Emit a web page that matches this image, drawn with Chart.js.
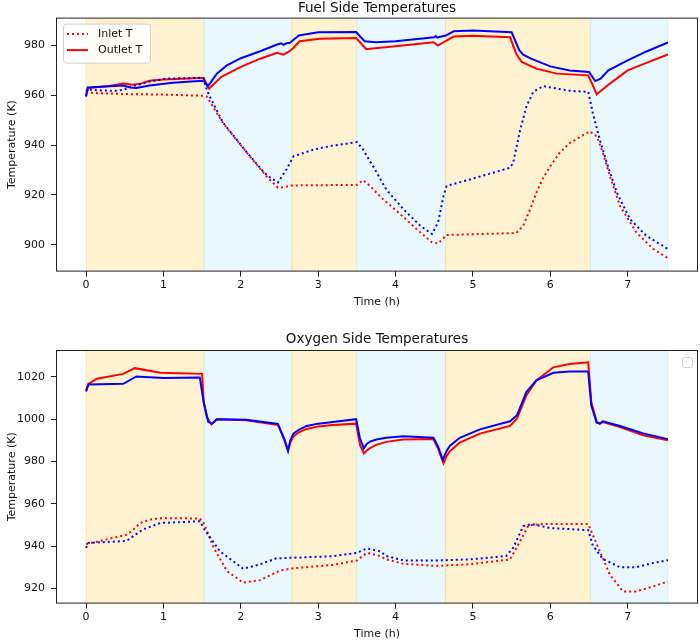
<!DOCTYPE html>
<html>
<head>
<meta charset="utf-8">
<script src="https://cdn.jsdelivr.net/npm/chart.js@4.4.0/dist/chart.umd.min.js"></script>
<style>
  body { margin: 0; background: #fff; }
  canvas { display: block; }
</style>
</head>
<body>
<canvas id="Grafica1" width="700" height="310"></canvas>
<canvas id="Grafica2" width="700" height="332"></canvas>
<script>
// fases de operacion (sombreado de fondo)
const phaseEdges = [0, 1.525, 2.66, 3.5, 4.645, 6.52, 7.52];
const phaseKinds = ['hot', 'cold', 'hot', 'cold', 'hot', 'cold'];

const xTicks = [0, 1, 2, 3, 4, 5, 6, 7];
const fuelTicks = [900, 920, 940, 960, 980];
const oxTicks = [920, 940, 960, 980, 1000, 1020];

// lado combustible
const fuelInRedT = [0, 0.1, 0.5, 1.0, 1.52, 1.56, 1.77, 2.08, 2.33, 2.48, 2.55, 2.65, 3.0, 3.5, 3.58, 3.67, 3.84, 4.06, 4.27, 4.47, 4.55, 4.66, 5.0, 5.56, 5.65, 5.74, 5.82, 5.91, 6.0, 6.12, 6.25, 6.43, 6.51, 6.6, 6.68, 6.77, 6.9, 7.11, 7.33, 7.52];
const fuelInRed = [961.4, 960.9, 960.5, 960.3, 959.8, 959.5, 948.8, 936.9, 927.5, 922.9, 923.0, 923.8, 923.9, 924.0, 925.9, 923.6, 918.2, 912.3, 906.3, 901.0, 900.5, 903.9, 904.2, 904.7, 907.6, 914.3, 920.9, 927.0, 931.5, 936.9, 940.8, 944.1, 945.5, 943.5, 936.9, 927.5, 915.6, 905.0, 898.3, 894.6];

const fuelInBlueT = [0, 0.01, 0.17, 0.38, 0.49, 0.6, 0.82, 1.04, 1.47, 1.52, 1.54, 1.59, 1.77, 2.08, 2.3, 2.4, 2.48, 2.59, 2.68, 2.94, 3.19, 3.5, 3.58, 3.67, 3.71, 3.88, 4.1, 4.32, 4.47, 4.55, 4.62, 4.66, 4.96, 5.48, 5.52, 5.61, 5.69, 5.78, 5.91, 6.08, 6.25, 6.49, 6.55, 6.64, 6.73, 6.86, 7.03, 7.24, 7.52];
const fuelInBlue = [959.5, 962.3, 962.0, 961.8, 962.3, 963.7, 965.5, 966.7, 967.0, 966.8, 964.0, 960.0, 949.0, 937.0, 929.0, 926.5, 925.0, 930.2, 935.5, 938.2, 939.8, 941.2, 938.2, 933.5, 931.5, 922.2, 914.3, 907.6, 904.3, 909.0, 919.6, 923.6, 926.2, 930.9, 932.9, 946.1, 955.4, 961.4, 963.7, 962.7, 961.8, 961.4, 952.8, 942.2, 932.9, 920.9, 910.3, 903.6, 898.3];

const fuelOutRedT = [0, 0.03, 0.3, 0.48, 0.6, 0.69, 0.82, 1.0, 1.47, 1.52, 1.55, 1.59, 1.65, 1.75, 2.0, 2.25, 2.47, 2.55, 2.62, 2.68, 2.76, 3.02, 3.49, 3.54, 3.62, 3.67, 4.0, 4.49, 4.55, 4.64, 4.75, 5.0, 5.48, 5.56, 5.63, 5.82, 6.08, 6.49, 6.55, 6.6, 6.64, 6.77, 7.0, 7.25, 7.52];
const fuelOutRed = [960.3, 962.9, 963.7, 964.7, 964.2, 964.5, 965.8, 966.3, 966.9, 966.9, 965.0, 962.7, 964.5, 967.4, 971.4, 974.7, 977.1, 976.3, 977.5, 979.0, 981.7, 982.7, 983.0, 981.3, 978.5, 978.7, 979.7, 981.3, 980.0, 981.7, 983.6, 983.9, 983.3, 976.7, 973.4, 970.7, 968.7, 968.0, 964.0, 960.4, 961.4, 964.7, 970.0, 973.1, 976.4];

const fuelOutBlueT = [0, 0.02, 0.48, 0.57, 0.65, 0.82, 1.12, 1.5, 1.53, 1.57, 1.6, 1.69, 1.82, 2.0, 2.25, 2.47, 2.52, 2.55, 2.6, 2.63, 2.75, 3.0, 3.49, 3.53, 3.6, 3.75, 4.0, 4.5, 4.52, 4.54, 4.58, 4.65, 4.75, 5.0, 5.5, 5.6, 5.65, 5.75, 6.0, 6.25, 6.5, 6.58, 6.65, 6.75, 7.0, 7.25, 7.52];
const fuelOutBlue = [959.7, 963.1, 963.9, 963.1, 962.9, 963.9, 965.0, 965.8, 965.5, 963.7, 964.7, 968.7, 972.0, 974.9, 977.7, 980.4, 980.9, 980.3, 981.0, 981.0, 984.0, 985.3, 985.4, 984.0, 981.7, 981.3, 981.7, 983.3, 983.8, 983.2, 983.5, 984.0, 985.7, 986.0, 985.3, 978.0, 976.3, 974.7, 971.6, 970.0, 969.4, 965.7, 966.7, 970.0, 974.0, 977.7, 981.2];

// lado oxigeno
const oxInRedT = [0, 0.52, 0.6, 0.7, 0.85, 1.0, 1.47, 1.52, 1.65, 1.82, 2.03, 2.25, 2.51, 2.68, 3.19, 3.5, 3.63, 3.8, 3.88, 4.1, 4.53, 4.96, 5.48, 5.61, 5.72, 5.91, 6.25, 6.49, 6.53, 6.64, 6.77, 6.94, 7.11, 7.33, 7.52];
const oxInRed = [941.0, 945.4, 947.5, 951.0, 952.8, 953.3, 953.1, 951.0, 939.3, 928.3, 922.8, 924.0, 928.6, 929.6, 931.2, 933.3, 936.9, 935.4, 933.8, 931.7, 930.7, 931.5, 933.8, 942.4, 949.9, 950.5, 950.5, 950.5, 947.0, 937.6, 926.6, 918.7, 918.7, 921.0, 923.4];

const oxInBlueT = [0, 0.03, 0.52, 0.74, 0.96, 1.47, 1.53, 1.73, 2.03, 2.25, 2.46, 2.68, 3.19, 3.5, 3.63, 3.8, 3.88, 4.1, 4.53, 4.96, 5.43, 5.52, 5.65, 5.76, 6.0, 6.49, 6.55, 6.68, 6.9, 7.11, 7.33, 7.52];
const oxInBlue = [939.2, 941.6, 942.5, 948.0, 951.0, 951.8, 947.9, 937.6, 929.4, 931.5, 934.3, 934.6, 935.3, 936.9, 939.0, 937.6, 935.4, 933.3, 933.3, 933.8, 935.4, 939.3, 949.5, 950.5, 948.6, 947.6, 940.3, 934.0, 930.1, 930.1, 932.1, 933.4];

const oxOutRedT = [0, 0.03, 0.14, 0.48, 0.63, 0.96, 1.5, 1.52, 1.56, 1.62, 1.69, 2.07, 2.48, 2.56, 2.61, 2.64, 2.68, 2.75, 2.85, 3.0, 3.19, 3.49, 3.54, 3.59, 3.63, 3.67, 3.75, 3.88, 4.1, 4.49, 4.55, 4.62, 4.66, 4.7, 4.83, 5.09, 5.48, 5.57, 5.69, 5.82, 6.04, 6.25, 6.49, 6.53, 6.6, 6.64, 6.68, 6.9, 7.2, 7.52];
const oxOutRed = [1013.6, 1016.7, 1019.1, 1021.4, 1024.1, 1021.9, 1021.4, 1008.1, 1001.0, 997.5, 1000.0, 999.5, 997.2, 990.9, 985.4, 989.0, 991.8, 993.8, 995.4, 996.6, 997.3, 997.9, 987.8, 983.8, 985.3, 986.4, 987.9, 989.3, 990.4, 990.6, 986.0, 979.2, 982.6, 984.8, 989.0, 993.2, 996.8, 1000.3, 1011.2, 1018.3, 1024.5, 1026.1, 1026.9, 1008.1, 998.7, 997.9, 998.7, 996.3, 992.4, 990.1];

const oxOutBlueT = [0, 0.03, 0.48, 0.65, 1.0, 1.47, 1.52, 1.58, 1.63, 1.69, 2.07, 2.48, 2.56, 2.61, 2.64, 2.68, 2.75, 2.85, 3.0, 3.19, 3.49, 3.54, 3.59, 3.63, 3.67, 3.75, 3.88, 4.1, 4.49, 4.55, 4.61, 4.66, 4.7, 4.83, 5.09, 5.48, 5.57, 5.69, 5.82, 6.04, 6.25, 6.49, 6.53, 6.6, 6.64, 6.68, 6.9, 7.2, 7.52];
const oxOutBlue = [1013.1, 1016.4, 1016.7, 1020.2, 1019.5, 1019.7, 1008.0, 998.7, 997.9, 1000.0, 999.7, 997.8, 990.5, 985.0, 990.0, 993.2, 995.0, 996.8, 997.9, 998.7, 1000.0, 990.9, 986.2, 988.4, 989.4, 990.4, 991.2, 992.0, 991.2, 987.0, 980.8, 985.0, 987.4, 991.2, 995.2, 999.0, 1001.9, 1012.8, 1018.3, 1021.9, 1022.5, 1022.5, 1006.5, 998.3, 997.9, 999.0, 996.8, 993.3, 990.6];

const FONT = 'DejaVu Sans';

const pts = (ts, vs) => ts.map((t, i) => ({x: t, y: vs[i]}));

// sombreado de fases
const phasePlugin = {
    id: 'phases',
    beforeDatasetsDraw(chart) {
        const {ctx, chartArea, scales} = chart;
        ctx.save();
        for (let i = 0; i < phaseKinds.length; i++) {
            const x0 = scales.x.getPixelForValue(phaseEdges[i]);
            const x1 = scales.x.getPixelForValue(phaseEdges[i + 1]);
            const hot = phaseKinds[i] == 'hot';
            ctx.fillStyle = hot ? 'rgb(255,242,208)' : 'rgb(233,248,253)';
            ctx.fillRect(x0, chartArea.top, x1 - x0, chartArea.bottom - chartArea.top);
            ctx.strokeStyle = hot ? 'rgba(255,215,120,0.6)' : 'rgba(190,235,250,0.6)';
            ctx.lineWidth = 1;
            ctx.beginPath();
            ctx.moveTo(x0, chartArea.top); ctx.lineTo(x0, chartArea.bottom);
            ctx.moveTo(x1, chartArea.top); ctx.lineTo(x1, chartArea.bottom);
            ctx.stroke();
        }
        ctx.restore();
    }
};

// marco, titulo y leyendas estilo matplotlib
const framePlugin = {
    id: 'frame',
    afterDraw(chart, args, opts) {
        const {ctx, chartArea: a} = chart;
        ctx.save();
        ctx.strokeStyle = '#222';
        ctx.lineWidth = 1;
        ctx.strokeRect(a.left - 0.5, a.top - 0.5, a.right - a.left + 1, a.bottom - a.top + 1);

        ctx.fillStyle = '#111';
        ctx.font = '13.5px "' + FONT + '"';
        ctx.textAlign = 'center';
        ctx.textBaseline = 'middle';
        ctx.fillText(opts.title, (a.left + a.right) / 2, opts.titleY);
        ctx.textAlign = 'left';

        if (opts.legend) {
            const bx = a.left + 6.5, by = a.top + 5.5, bw = 87, bh = 39;
            ctx.fillStyle = 'rgba(255,255,255,0.85)';
            ctx.strokeStyle = '#d0d0d0';
            ctx.beginPath();
            ctx.roundRect(bx, by, bw, bh, 3);
            ctx.fill();
            ctx.stroke();
            const items = [['Inlet T', [2, 3]], ['Outlet T', []]];
            items.forEach((it, i) => {
                const y = a.top + 15.5 + i * 16;
                ctx.strokeStyle = 'red';
                ctx.lineWidth = 2;
                ctx.setLineDash(it[1]);
                ctx.beginPath();
                ctx.moveTo(a.left + 10, y);
                ctx.lineTo(a.left + 31, y);
                ctx.stroke();
                ctx.setLineDash([]);
                ctx.fillStyle = '#111';
                ctx.font = '11px "' + FONT + '"';
                ctx.textBaseline = 'middle';
                ctx.fillText(it[0], a.left + 41, y);
            });
        }
        if (opts.emptyLegend) {
            ctx.fillStyle = '#fff';
            ctx.strokeStyle = '#d0d0d0';
            ctx.lineWidth = 1;
            ctx.beginPath();
            ctx.roundRect(a.right - 14.5, a.top + 6.5, 10, 10, 2);
            ctx.fill();
            ctx.stroke();
        }
        ctx.restore();
    }
};

const serie = (data, color, dotted) => ({
    data: data,
    borderColor: color,
    backgroundColor: color,
    borderWidth: 2,
    borderDash: dotted ? [2, 3] : [],
    pointRadius: 0,
    tension: 0,
    fill: false
});

const makeOptions = (yMin, yMax, yTicks, padTop, frameOpts) => ({
    responsive: false,
    animation: false,
    events: [],
    layout: {padding: {left: 4, right: 3, top: padTop, bottom: 0}},
    plugins: {
        legend: {display: false},
        tooltip: {enabled: false},
        title: {display: false},
        frame: frameOpts
    },
    scales: {
        x: {
            type: 'linear',
            min: -0.376,
            max: 7.896,
            grid: {drawOnChartArea: false, drawTicks: true, tickLength: 6, color: '#222'},
            border: {display: false},
            afterBuildTicks: s => { s.ticks = xTicks.map(v => ({value: v})); },
            ticks: {color: '#111', font: {family: FONT, size: 11}, padding: 2, maxRotation: 0,
                callback: v => v},
            title: {display: true, text: 'Time (h)', color: '#111',
                font: {family: FONT, size: 11}, padding: {top: 2, bottom: 1}}
        },
        y: {
            min: yMin,
            max: yMax,
            grid: {drawOnChartArea: false, drawTicks: true, tickLength: 6, color: '#222'},
            border: {display: false},
            afterBuildTicks: s => { s.ticks = yTicks.map(v => ({value: v})); },
            afterFit: s => { s.width = 53; },
            ticks: {color: '#111', font: {family: FONT, size: 11}, padding: 6,
                callback: v => v},
            title: {display: true, text: 'Temperature (K)', color: '#111',
                font: {family: FONT, size: 11}, padding: {top: 2, bottom: 0}}
        }
    }
});

// grafica 1: lado combustible
new Chart(document.getElementById('Grafica1'), {
    type: 'line',
    data: {
        datasets: [
            serie(pts(fuelOutBlueT, fuelOutBlue), 'blue', false),
            serie(pts(fuelInBlueT, fuelInBlue), 'blue', true),
            serie(pts(fuelOutRedT, fuelOutRed), 'red', false),
            serie(pts(fuelInRedT, fuelInRed), 'red', true)
        ]
    },
    options: makeOptions(889.6, 990.8, fuelTicks, 18.6,
        {title: 'Fuel Side Temperatures', titleY: 8, legend: true}),
    plugins: [phasePlugin, framePlugin]
});

// grafica 2: lado oxigeno
new Chart(document.getElementById('Grafica2'), {
    type: 'line',
    data: {
        datasets: [
            serie(pts(oxOutBlueT, oxOutBlue), 'blue', false),
            serie(pts(oxInBlueT, oxInBlue), 'blue', true),
            serie(pts(oxOutRedT, oxOutRed), 'red', false),
            serie(pts(oxInRedT, oxInRed), 'red', true)
        ]
    },
    options: makeOptions(913.4, 1032.2, oxTicks, 41,
        {title: 'Oxygen Side Temperatures', titleY: 29, emptyLegend: true}),
    plugins: [phasePlugin, framePlugin]
});
</script>
</body>
</html>
